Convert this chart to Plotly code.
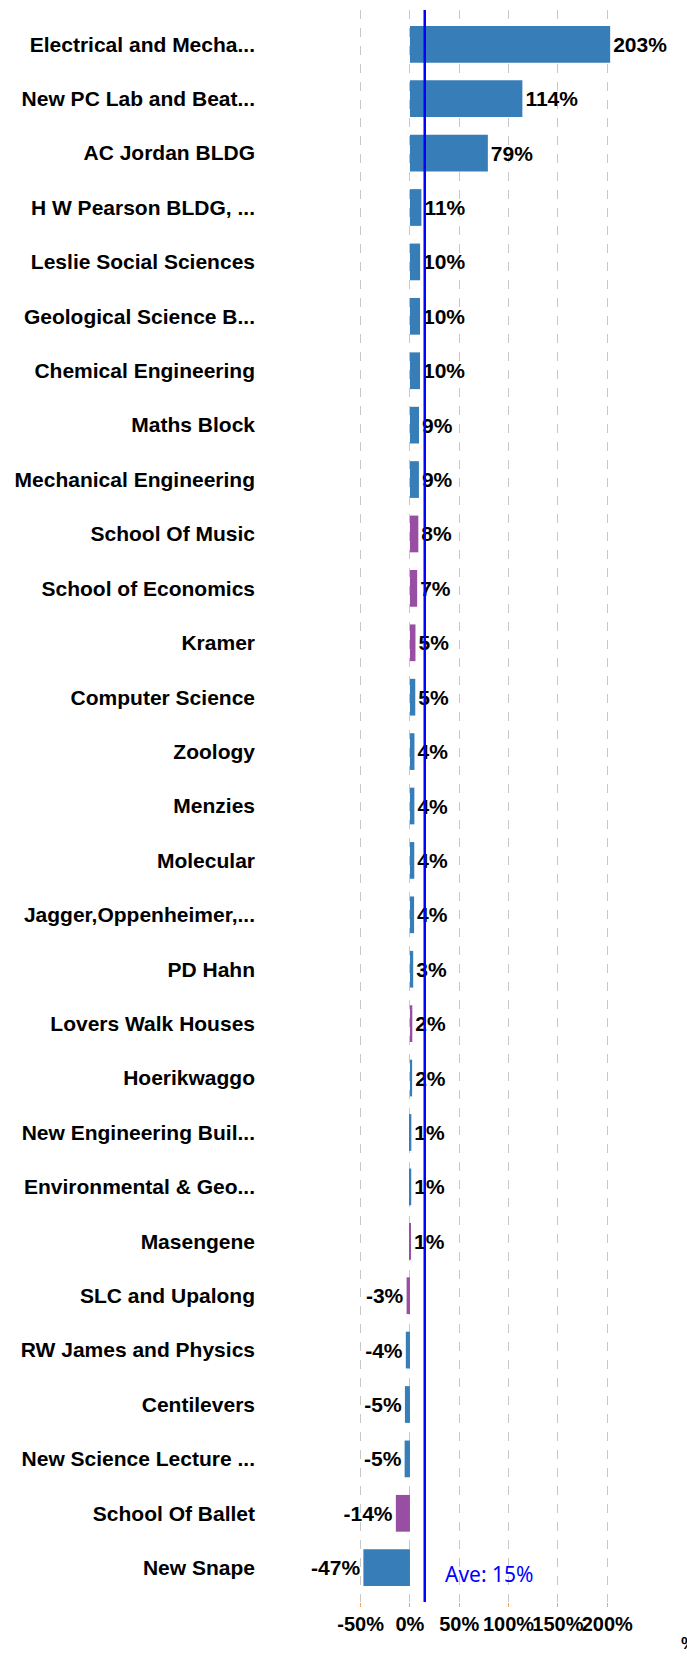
import plotly.graph_objects as go

buildings = [
    "Electrical and Mecha...", "New PC Lab and Beat...", "AC Jordan BLDG",
    "H W Pearson BLDG, ...", "Leslie Social Sciences", "Geological Science B...",
    "Chemical Engineering", "Maths Block", "Mechanical Engineering",
    "School Of Music", "School of Economics", "Kramer", "Computer Science",
    "Zoology", "Menzies", "Molecular", "Jagger,Oppenheimer,...", "PD Hahn",
    "Lovers Walk Houses", "Hoerikwaggo", "New Engineering Buil...",
    "Environmental & Geo...", "Masengene", "SLC and Upalong",
    "RW James and Physics", "Centilevers", "New Science Lecture ...",
    "School Of Ballet", "New Snape",
]
change_pct = [203, 114, 79, 11.6, 10.3, 10.2, 10.2, 9.2, 9.1, 8.5, 7.3, 5.6, 5.4,
              4.6, 4.5, 4.4, 4.2, 3.3, 2.4, 2.2, 1.4, 1.3, 0.6,
              -3.4, -4.2, -5.1, -5.4, -14.3, -47.2]
labels = ["203%", "114%", "79%", "11%", "10%", "10%", "10%", "9%", "9%", "8%",
          "7%", "5%", "5%", "4%", "4%", "4%", "4%", "3%", "2%", "2%", "1%",
          "1%", "1%", "-3%", "-4%", "-5%", "-5%", "-14%", "-47%"]
residential = {"School Of Music", "School of Economics", "Kramer", "Lovers Walk Houses",
               "Masengene", "SLC and Upalong", "School Of Ballet"}
average = 15
tick_vals = [-50, 0, 50, 100, 150, 200]

BLUE = "#377eb8"
PURPLE = "#984ea3"
colors = [PURPLE if b in residential else BLUE for b in buildings]

fig = go.Figure(go.Bar(
    y=buildings, x=change_pct, orientation="h",
    marker=dict(color=colors, line=dict(width=0)),
    text=labels, textposition="outside", cliponaxis=False,
    textfont=dict(family="Liberation Sans", size=21, color="black", weight="bold"),
))

# average line
fig.add_shape(type="line", xref="x", yref="paper", x0=average, x1=average, y0=0, y1=1,
              line=dict(color="#0000ff", width=2.5))
fig.add_annotation(x=average + 19, y=buildings[-1], xref="x", yref="y",
                   text=f"Ave: {average}%", showarrow=False, xanchor="left", yshift=-6,
                   font=dict(family="Noto Sans", size=21, color="#0000ff"))
# clipped text at the bottom right edge
fig.add_annotation(x=1, y=0, xref="paper", yref="paper", text="%", showarrow=False,
                   xanchor="left", yanchor="top", xshift=57, yshift=-30,
                   font=dict(family="Liberation Sans", size=17, color="black", weight="bold"))

fig.update_layout(
    width=687, height=1657,
    margin=dict(l=262, r=65, t=10, b=55),
    plot_bgcolor="white", paper_bgcolor="white",
    bargap=0.325, showlegend=False,
    font=dict(family="Liberation Sans", color="black"),
)
fig.update_xaxes(
    range=[-150, 215], tickvals=tick_vals, ticktext=[f"{v}%" for v in tick_vals],
    tickangle=0,
    showgrid=True, gridcolor="#c8c8c8", griddash="dash", gridwidth=1,
    zeroline=False, showline=False,
    ticks="outside", ticklen=4, tickcolor="#f5a04a", tickwidth=1,
    tickfont=dict(family="Liberation Sans", size=20, color="black", weight="bold"),
)
fig.update_yaxes(
    range=[28.63, -0.63], showgrid=False, zeroline=False, showline=False,
    tickfont=dict(family="Liberation Sans", size=21, color="black", weight="bold"),
    ticks="", ticklabelstandoff=6,
)

fig.write_html("out.html", config={"displayModeBar": False},
               post_script="document.body.style.margin='0';")
